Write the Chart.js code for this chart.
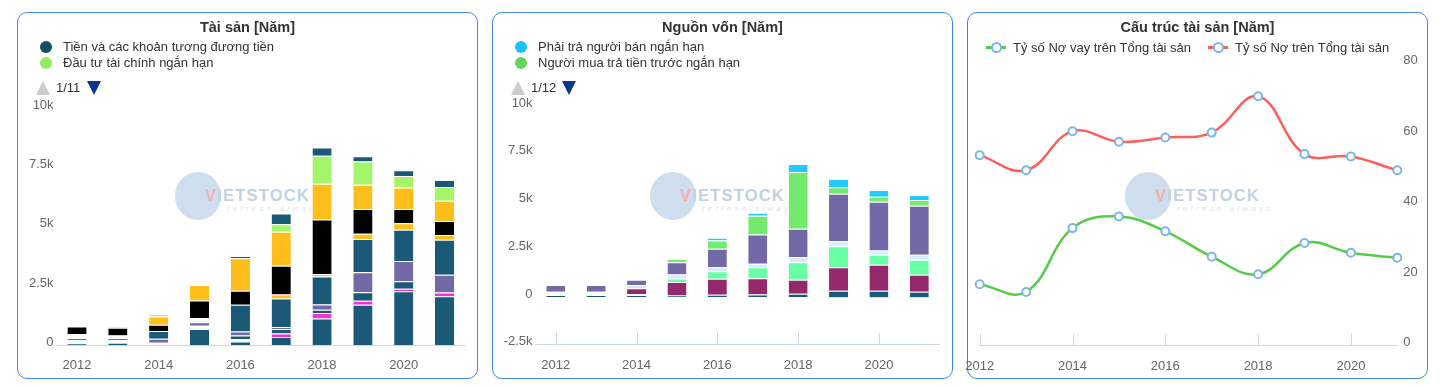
<!DOCTYPE html>
<html lang="vi">
<head>
<meta charset="utf-8">
<title>Cơ cấu tài sản - nguồn vốn</title>
<script src="https://cdn.jsdelivr.net/npm/chart.js@4.4.0/dist/chart.umd.min.js"></script>
<style>
  body { margin: 0; background: #fff; font-family: 'Liberation Sans', Arial, sans-serif; }
  .panel { position: absolute; top: 12px; width: 461px; height: 367px; border: 1px solid #3f87ec; border-radius: 10px; box-sizing: border-box; }
  .panel canvas { position: absolute; top: 0; z-index: 2; }
  .title { position: absolute; left: 0; right: 0; top: 4px; height: 20px; line-height: 20px; text-align: center; font-weight: bold; font-size: 14.5px; color: #333; z-index: 3; }
  .item { position: absolute; height: 16px; line-height: 16px; font-size: 13px; color: #333; white-space: nowrap; z-index: 3; }
  .dot { position: absolute; width: 12px; height: 12px; border-radius: 50%; left: -23px; top: 2px; }
  .pager { position: absolute; left: 18px; top: 67px; height: 16px; width: 80px; z-index: 3; font-size: 13px; color: #333; }
  .up { position: absolute; left: 0; top: 1px; width: 0; height: 0; border-left: 7.5px solid transparent; border-right: 7.5px solid transparent; border-bottom: 14px solid #cccccc; }
  .down { position: absolute; left: 51px; top: 1px; width: 0; height: 0; border-left: 7.5px solid transparent; border-right: 7.5px solid transparent; border-top: 14px solid #0a3593; }
  .pager span { position: absolute; left: 20px; top: 0; line-height: 16px; }
  .wm { position: absolute; left: 157px; top: 159px; width: 160px; height: 50px; z-index: 1; }
  .wm .ball { position: absolute; left: 0; top: 0; width: 46px; height: 48px; border-radius: 50%; background: #c2d6eb; opacity: 0.8; }
  .wm .name { position: absolute; left: 30px; top: 14px; font-weight: bold; font-size: 16.5px; letter-spacing: 1.2px; color: #c2d2e2; }
  .wm .name b { color: #f2b0b0; }
  .wm .slogan { position: absolute; left: 52px; top: 32px; font-size: 8px; letter-spacing: 3.2px; color: #dbe3ec; font-style: italic; }
  .lsym { position: absolute; left: -27px; top: 6px; width: 20px; height: 3px; }
  .lsym i { position: absolute; left: 5px; top: -4px; width: 7px; height: 7px; border-radius: 50%; border: 2px solid #7cb5ec; background: #fff; }
</style>
</head>
<body>

<div class="panel" style="left:17px">
  <div class="wm"><div class="ball"></div><div class="name"><b>V</b>IETSTOCK</div><div class="slogan">refresh always</div></div>
  <canvas id="taiSan" width="459" height="365" style="left:0"></canvas>
  <div class="title">Tài sản [Năm]</div>
  <div class="item" style="left:45px; top:26px"><div class="dot" style="background:#154c67"></div>Tiền và các khoản tương đương tiền</div>
  <div class="item" style="left:45px; top:42px"><div class="dot" style="background:#92ea5c"></div>Đầu tư tài chính ngắn hạn</div>
  <div class="pager"><div class="up"></div><span>1/11</span><div class="down"></div></div>
</div>

<div class="panel" style="left:492px">
  <div class="wm"><div class="ball"></div><div class="name"><b>V</b>IETSTOCK</div><div class="slogan">refresh always</div></div>
  <canvas id="nguonVon" width="459" height="365" style="left:0"></canvas>
  <div class="title">Nguồn vốn [Năm]</div>
  <div class="item" style="left:45px; top:26px"><div class="dot" style="background:#17c2fd"></div>Phải trả người bán ngắn hạn</div>
  <div class="item" style="left:45px; top:42px"><div class="dot" style="background:#62d65c"></div>Người mua trả tiền trước ngắn hạn</div>
  <div class="pager"><div class="up"></div><span>1/12</span><div class="down"></div></div>
</div>

<div class="panel" style="left:967px">
  <div class="wm"><div class="ball"></div><div class="name"><b>V</b>IETSTOCK</div><div class="slogan">refresh always</div></div>
  <canvas id="cauTruc" width="478" height="365" style="left:-18px"></canvas>
  <div class="title">Cấu trúc tài sản [Năm]</div>
  <div class="item" style="left:45px; top:27px"><div class="lsym" style="background:#55cc47"><i></i></div>Tỷ số Nợ vay trên Tổng tài sản</div>
  <div class="item" style="left:267px; top:27px"><div class="lsym" style="background:#ff5c5c"><i></i></div>Tỷ số Nợ trên Tổng tài sản</div>
</div>

<script>
// Năm tài chính
var years = ['2012', '2013', '2014', '2015', '2016', '2017', '2018', '2019', '2020', '2021'];

// Tài sản (tỷ đồng), từ dưới lên trên trong cột
var tsDaiHanTeal   = [70, 100, 0, 680, 150, 340, 1120, 1700, 2270, 2060];
var tsTrang1       = [130, 100, 100, 130, 100, 0, 0, 0, 0, 0];
var tsHong         = [0, 0, 0, 0, 0, 150, 230, 170, 110, 160];
var tsTealMong     = [0, 0, 0, 0, 150, 190, 140, 360, 320, 0];
var tsTim          = [100, 100, 160, 150, 170, 80, 220, 850, 860, 750];
var tsTrang2       = [160, 100, 0, 180, 0, 0, 0, 0, 0, 0];
var tsTealGiua     = [0, 0, 330, 0, 1130, 1210, 1190, 1410, 1320, 1480];
var tsVangMong     = [0, 0, 0, 0, 0, 170, 100, 220, 270, 210];
var hangTonKho     = [320, 330, 270, 740, 600, 1210, 2310, 1050, 610, 590];
var phaiThuNganHan = [0, 50, 350, 660, 1370, 1440, 1510, 1020, 910, 850];
var dauTuNganHan   = [0, 0, 100, 0, 0, 320, 1190, 990, 480, 590];
var tienTuongDuong = [0, 0, 0, 0, 100, 450, 350, 220, 250, 290];

// Nguồn vốn (tỷ đồng), từ dưới lên trên
var nvTeal         = [100, 100, 100, 80, 120, 130, 170, 330, 330, 270];
var nvTrang        = [180, 180, 60, 0, 0, 0, 0, 0, 0, 0];
var nvDoMan        = [0, 0, 300, 700, 840, 850, 740, 1230, 1360, 900];
var nvXanhBacHa    = [0, 0, 70, 190, 390, 580, 910, 1100, 520, 780];
var nvXanhNhat     = [0, 0, 100, 210, 220, 180, 280, 260, 230, 260];
var nvTim          = [350, 350, 280, 640, 960, 1530, 1480, 2490, 2550, 2570];
var nguoiMuaTraTruoc = [0, 0, 0, 170, 430, 990, 2970, 340, 260, 310];
var phaiTraNguoiBan  = [0, 0, 0, 0, 150, 160, 420, 430, 360, 260];
var nvAm           = [0, 0, 0, 0, 0, 0, 0, -60, -60, -60];

// Cấu trúc tài sản (%)
var noVayTrenTongTS = [17.4, 15.2, 33.3, 36.6, 32.4, 25.2, 20.2, 29.1, 26.3, 24.9];
var noTrenTongTS    = [54.0, 49.7, 60.8, 57.8, 59.0, 60.4, 70.7, 54.3, 53.6, 49.7];

Chart.defaults.font.family = "'Liberation Sans', Arial, sans-serif";
Chart.defaults.font.size = 13;
Chart.defaults.color = '#666666';

function kFormat(v) {
    return v === 0 ? '0' : (v / 1000) + 'k';
}

function everyOther(v, i) {
    return i % 2 === 0 ? years[i] : '';
}

// Vẽ các vạch chia hướng lên trên trục x (mỗi 2 năm)
var innerTicks = {
    id: 'innerTicks',
    beforeDatasetsDraw: function (chart) {
        var x = chart.scales.x;
        var ctx = chart.ctx;
        var bottom = chart.chartArea.bottom;
        ctx.save();
        ctx.strokeStyle = '#ccd6eb';
        ctx.lineWidth = 1;
        for (var i = 0; i < x.ticks.length; i += 2) {
            var px = Math.round(x.getPixelForTick(i)) + 0.5;
            ctx.beginPath();
            ctx.moveTo(px, bottom - 12);
            ctx.lineTo(px, bottom);
            ctx.stroke();
        }
        ctx.restore();
    }
};

function barSet(label, data, color) {
    return {
        label: label,
        data: data,
        backgroundColor: color,
        borderColor: '#ffffff',
        borderWidth: { top: 1, bottom: 0, left: 0, right: 0 },
        borderSkipped: false,
        categoryPercentage: 1,
        barPercentage: 0.47,
        stack: 's'
    };
}

function barOptions(yMin, yMax, yWidth, padding) {
    return {
        responsive: false,
        animation: false,
        devicePixelRatio: 1,
        layout: { padding: padding },
        plugins: { legend: { display: false }, tooltip: { enabled: false } },
        scales: {
            x: {
                stacked: true,
                grid: { display: false, drawTicks: false },
                border: { display: true, color: '#ccd6eb' },
                ticks: { padding: 13, autoSkip: false, maxRotation: 0, callback: everyOther },
                afterFit: function (s) { s.height = 28; }
            },
            y: {
                stacked: true,
                min: yMin,
                max: yMax,
                grid: { display: false, drawTicks: false },
                border: { display: false },
                ticks: { stepSize: 2500, padding: 3, labelOffset: -3, callback: kFormat },
                afterFit: function (s) { s.width = yWidth; }
            }
        }
    };
}

new Chart(document.getElementById('taiSan'), {
    type: 'bar',
    data: {
        labels: years,
        datasets: [
            barSet('Tài sản dài hạn khác', tsDaiHanTeal, '#1a5a76'),
            barSet('Phải thu dài hạn', tsTrang1, '#fbfcfe'),
            barSet('Bất động sản đầu tư', tsHong, '#f431d5'),
            barSet('Tài sản dở dang dài hạn', tsTealMong, '#1a5a76'),
            barSet('Đầu tư tài chính dài hạn', tsTim, '#7369a7'),
            barSet('Tài sản ngắn hạn khác', tsTrang2, '#fbfcfe'),
            barSet('Tài sản cố định', tsTealGiua, '#1a5a76'),
            barSet('Phải thu khác', tsVangMong, '#ffbf1b'),
            barSet('Hàng tồn kho', hangTonKho, '#000000'),
            barSet('Các khoản phải thu ngắn hạn', phaiThuNganHan, '#ffbf1b'),
            barSet('Đầu tư tài chính ngắn hạn', dauTuNganHan, '#a3f56a'),
            barSet('Tiền và các khoản tương đương tiền', tienTuongDuong, '#1a5a76')
        ]
    },
    options: barOptions(0, 10000, 38.6, { top: 95.7, right: 12, bottom: 5, left: 0 })
});

var nvOptions = barOptions(-2500, 10000, 42.6, { top: 93.2, right: 12.5, bottom: 5.3, left: 0 });

new Chart(document.getElementById('nguonVon'), {
    type: 'bar',
    data: {
        labels: years,
        datasets: [
            barSet('Vay dài hạn', nvTeal, '#1a5a76'),
            barSet('Phải trả khác', nvTrang, '#fbfcfe'),
            barSet('Vốn góp của chủ sở hữu', nvDoMan, '#93286b'),
            barSet('Lợi nhuận sau thuế chưa phân phối', nvXanhBacHa, '#68ffa5'),
            barSet('Quỹ đầu tư phát triển', nvXanhNhat, '#d4ecff'),
            barSet('Vay ngắn hạn', nvTim, '#7369a7'),
            barSet('Người mua trả tiền trước ngắn hạn', nguoiMuaTraTruoc, '#72ea6e'),
            barSet('Phải trả người bán ngắn hạn', phaiTraNguoiBan, '#22cbff'),
            barSet('Cổ phiếu quỹ', nvAm, '#ffbf1b')
        ]
    },
    options: nvOptions,
    plugins: [innerTicks]
});

new Chart(document.getElementById('cauTruc'), {
    type: 'line',
    data: {
        labels: years,
        datasets: [{
            label: 'Tỷ số Nợ vay trên Tổng tài sản',
            data: noVayTrenTongTS,
            borderColor: '#55cc47',
            borderWidth: 2.5,
            tension: 0.4,
            pointRadius: 4,
            pointBorderWidth: 2,
            pointBorderColor: '#7cb5ec',
            pointBackgroundColor: '#ffffff',
            clip: false
        }, {
            label: 'Tỷ số Nợ trên Tổng tài sản',
            data: noTrenTongTS,
            borderColor: '#ff5c5c',
            borderWidth: 2.5,
            tension: 0.4,
            pointRadius: 4,
            pointBorderWidth: 2,
            pointBorderColor: '#7cb5ec',
            pointBackgroundColor: '#ffffff',
            clip: false
        }]
    },
    options: {
        responsive: false,
        animation: false,
        devicePixelRatio: 1,
        layout: { padding: { top: 50.5, right: 0, bottom: 4.5, left: 29.7 } },
        plugins: { legend: { display: false }, tooltip: { enabled: false } },
        scales: {
            x: {
                offset: false,
                grid: { display: false, drawTicks: false },
                border: { display: true, color: '#ccd6eb' },
                ticks: { padding: 13, autoSkip: false, maxRotation: 0, callback: everyOther },
                afterFit: function (s) { s.height = 28; }
            },
            y: {
                position: 'right',
                min: 0,
                max: 80,
                grid: { display: false, drawTicks: false },
                border: { display: false },
                ticks: { stepSize: 20, padding: 6, labelOffset: -3 },
                afterFit: function (s) { s.width = 30.7; }
            }
        }
    },
    plugins: [innerTicks]
});
</script>
</body>
</html>
